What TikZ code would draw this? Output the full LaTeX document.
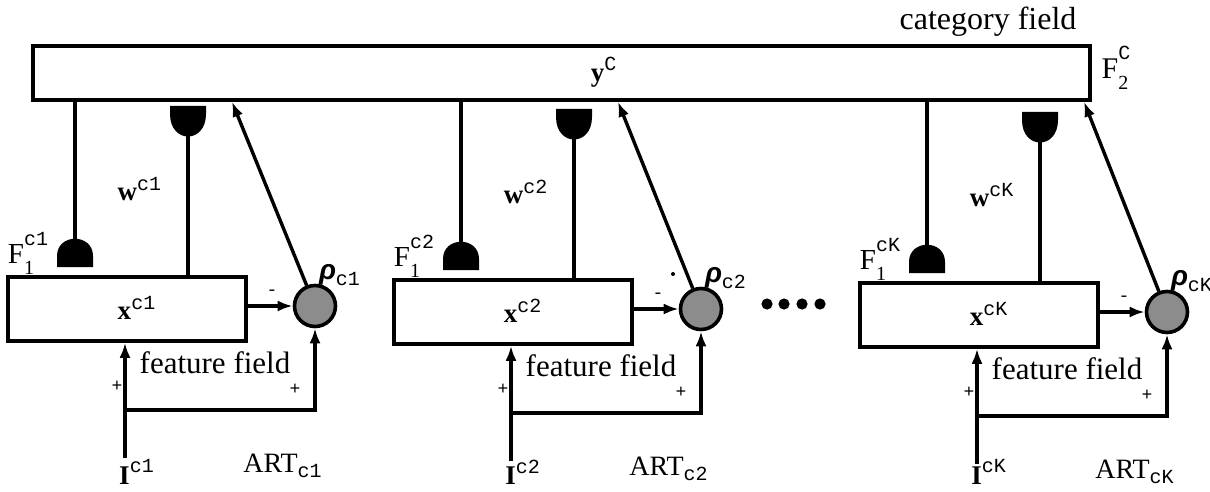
\documentclass[tikz,border=0pt]{standalone}
\usepackage{fontspec}
\setmainfont{Liberation Serif}
\newfontfamily\cour{Liberation Mono}
\newfontfamily\rhofont{Liberation Sans}
\usetikzlibrary{arrows.meta}
\newcommand\supf{\fontsize{10}{10}\selectfont\cour}
\newcommand\subf{\fontsize{10}{10}\selectfont}
\newcommand\stackss[3]{#1\rlap{\raisebox{0.62em}{\supf #2}}\raisebox{-0.38em}{\subf #3}\phantom{\supf #2}}
\begin{document}
\begin{tikzpicture}[x=0.5pt,y=-0.5pt,
  box/.style={draw, rectangle, line width=1.8pt, inner sep=0pt},
  rhonode/.style={circle, draw, line width=1.8pt, fill=black!45, minimum size=20.5pt, inner sep=0pt},
  lbl/.style={inner sep=0pt},
  conn/.style={line width=1.7pt},
  arr/.style={conn, -{Latex[length=7.5pt,width=5.5pt]}},
  big/.style={font=\fontsize{15.5}{16}\selectfont},
  mid/.style={font=\fontsize{13.5}{14}\selectfont},
  small/.style={font=\fontsize{9}{9}\selectfont\cour}]
\useasboundingbox (0,0) rectangle (1210,492);

\node[box, minimum width=528.5pt, minimum height=27pt] (top) at (561.5,73) {};
\node[lbl, mid] (yC) at (604,72) {$\hbox{\textbf{y}}^{\hbox{\supf C}}$};
\node[lbl, font=\fontsize{16}{16}\selectfont] (cat) at (988,22) {category field};
\node[lbl, font=\fontsize{15}{15}\selectfont] (F2) at (1121,68) {\stackss{F}{C}{2}};

\foreach \dx/\dy/\k [count=\i] in {0/0/1, 386/3/2, 852/6/K} {
\begin{scope}[shift={(\dx,\dy)}]
  \node[box, minimum width=119pt, minimum height=32pt] (x\i) at (127,309) {};
  \node[rhonode] (r\i) at (315,306) {};
  \coordinate (cl\i) at (75,239);
  \coordinate (cu\i) at (188,136);
  \coordinate (tip\i) at (232,100);
  \coordinate (in\i) at (125,458);
  \coordinate (br\i) at (125,410);
  % cups
  \fill (57,267) -- (57,256) .. controls (57,233) and (93,233) .. (93,256) -- (93,267) -- cycle;
  \fill (170,106) -- (170,114) .. controls (170,144) and (206,144) .. (206,114) -- (206,106) -- cycle;
  % connectors
  \draw[conn] (cl\i |- top.south) -- (cl\i);
  \draw[conn] (cu\i) -- (cu\i |- x\i.north);
  \draw[arr] (r\i) -- (tip\i |- top.south);
  \draw[arr] (x\i.east |- r\i) -- (r\i.west);
  \draw[arr] (in\i) -- (in\i |- x\i.south);
  \draw[arr] (br\i) -| (r\i.south);
  % labels
  \node[lbl, font=\fontsize{14.5}{14}\selectfont] (F1\i) at (33,253) {\stackss{F}{c\k}{1}};
  \node[lbl, mid] (w\i) at (140,189) {$\hbox{\textbf{w}}^{\hbox{\supf c\k}}$};
  \node[lbl, mid] (xl\i) at (137,308) {$\hbox{\textbf{x}}^{\hbox{\supf c\k}}$};
  \node[lbl, font=\fontsize{14}{14}\selectfont] (rl\i) at (340,275) {$\hbox{\rhofont\bfseries\itshape ρ}_{\hbox{\supf c\k}}$};
  \node[lbl, small] (m\i) at (272,293) {-};
  \node[lbl, big] (ff\i) at (215,363) {feature field};
  \node[lbl, small] (pa\i) at (117,386) {+};
  \node[lbl, small] (pb\i) at (295,389) {+};
  \node[lbl, mid] (I\i) at (137,{472-\dy}) {$\hbox{\textbf{I}}^{\hbox{\supf c\k}}$};
  \node[lbl, font=\fontsize{14}{14}\selectfont] (ART\i) at (283,466) {$\hbox{ART}_{\hbox{\supf c\k}}$};
\end{scope}
}
\foreach \xx in {767,784,802,820} \fill (\xx,304) circle[radius=2.8pt];
\fill (673,274) circle[radius=1pt];
\end{tikzpicture}
\end{document}
